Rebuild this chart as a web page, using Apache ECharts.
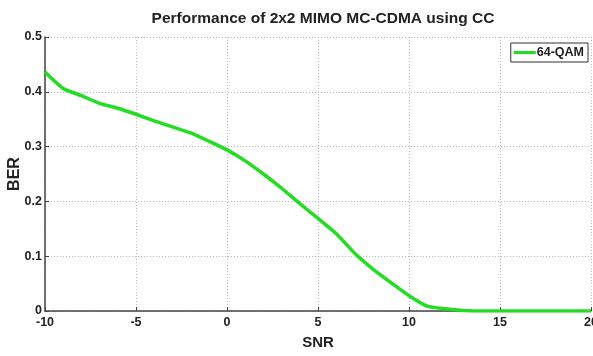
<!DOCTYPE html>
<html>
<head>
<meta charset="utf-8">
<script src="https://cdn.jsdelivr.net/npm/echarts@6/dist/echarts.min.js"></script>
<style>html,body{margin:0;padding:0;background:#fff}#c{width:593px;height:356px}</style>
</head>
<body>
<div id="c"></div>
<script>
var snr = [-10,-9,-8,-7,-6,-5,-4,-3,-2,-1,0,1,2,3,4,5,6,7,8,9,10,11,12,13,14,15,16,17,18,19,20];
var ber = [0.436,0.406,0.393,0.379,0.370,0.359,0.347,0.336,0.325,0.310,0.294,0.274,0.250,0.224,0.196,0.169,0.141,0.106,0.077,0.052,0.028,0.009,0.004,0.001,0,0,0,0,0,0,0];
var seriesName = '64-QAM';
var titleText = 'Performance of 2x2 MIMO MC-CDMA using CC';

var FONT = '"Liberation Sans", Arial, sans-serif';
var chart = echarts.init(document.getElementById('c'), null, {renderer: 'canvas'});
chart.setOption({
  animation: false,
  backgroundColor: '#fff',
  title: {
    text: titleText, left: 318, top: 6, textAlign: 'center',
    textStyle: {fontFamily: FONT, fontWeight: 'bold', fontSize: 15.5, color: '#222'}
  },
  legend: {
    right: 5, top: 43, orient: 'vertical',
    itemWidth: 22, itemHeight: 3, itemGap: 4,
    padding: [3, 4, 3, 3],
    borderColor: '#333', borderWidth: 1, backgroundColor: '#fff',
    icon: 'rect',
    textStyle: {fontFamily: FONT, fontWeight: 'bold', fontSize: 12.5, color: '#222', padding: [0,0,0,-4]},
    data: [seriesName]
  },
  grid: {left: 45, right: 2, top: 37, bottom: 45, containLabel: false, outerBoundsMode: 'none'},
  xAxis: {
    type: 'value', min: -10, max: 20, interval: 5,
    name: 'SNR', nameLocation: 'middle', nameGap: 24, nameMoveOverlap: false,
    nameTextStyle: {fontFamily: FONT, fontWeight: 'bold', fontSize: 15, color: '#222'},
    axisLine: {onZero: false, lineStyle: {color: '#444', width: 1.5}},
    axisTick: {inside: true, length: 4, lineStyle: {color: '#444'}},
    axisLabel: {fontFamily: FONT, fontWeight: 'bold', fontSize: 12.5, color: '#222', margin: 5},
    splitLine: {show: true, lineStyle: {color: '#bbb', type: [1, 2]}}
  },
  yAxis: {
    type: 'value', min: 0, max: 0.5, interval: 0.1,
    name: 'BER', nameLocation: 'middle', nameGap: 22, nameRotate: 90, nameMoveOverlap: false,
    nameTextStyle: {fontFamily: FONT, fontWeight: 'bold', fontSize: 16, color: '#222'},
    axisLine: {show: true, onZero: false, lineStyle: {color: '#444', width: 1.5}},
    axisTick: {show: true, inside: true, length: 4, lineStyle: {color: '#444'}},
    axisLabel: {fontFamily: FONT, fontWeight: 'bold', fontSize: 12.5, color: '#222', margin: 3,
      formatter: function(v){ return v === 0 ? '0' : String(Math.round(v*10)/10); }},
    splitLine: {show: true, lineStyle: {color: '#bbb', type: [1, 2]}}
  },
  series: [{
    name: seriesName, type: 'line',
    data: snr.map(function(x, i){ return [x, ber[i]]; }),
    showSymbol: false, symbol: 'none', smooth: 0.2,
    lineStyle: {color: '#22dd22', width: 3.5},
    itemStyle: {color: '#22dd22'}
  }]
});
</script>
</body>
</html>
